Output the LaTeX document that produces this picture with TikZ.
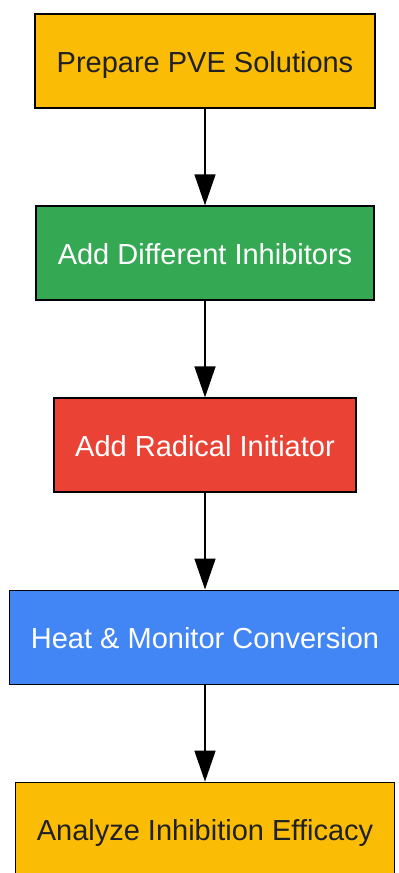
\documentclass[tikz,border=0pt]{standalone}
\usepackage{fontspec}
\setmainfont{Liberation Sans}
\usepackage{tikz}
\usetikzlibrary{arrows.meta,positioning}
\definecolor{PrepColor}{HTML}{FBBC05}
\definecolor{InhibColor}{HTML}{34A853}
\definecolor{InitColor}{HTML}{EA4335}
\definecolor{HeatColor}{HTML}{4285F4}
\definecolor{TextDark}{HTML}{202124}

\begin{document}
\begin{tikzpicture}[x=1pt,y=1pt,node distance=96.5pt,
  stepbox/.style={draw=black,line width=1.6pt,minimum height=94pt,inner xsep=21.5pt,
    text height=23pt,text depth=0pt,font=\fontsize{29}{34}\selectfont},
  flow/.style={line width=1.6pt,-{Triangle[length=31pt,width=21pt]}}]
  \useasboundingbox (0,0) rectangle (399,-873);
  \node[stepbox,fill=PrepColor,text=TextDark] (prep) at (205,-61) {Prepare PVE Solutions};
  \node[stepbox,fill=InhibColor,text=white,below=of prep] (inhib) {Add Different Inhibitors};
  \node[stepbox,fill=InitColor,text=white,below=of inhib] (init) {Add Radical Initiator};
  \node[stepbox,fill=HeatColor,text=white,below=of init] (heat) {Heat \& Monitor Conversion};
  \node[stepbox,fill=PrepColor,text=TextDark,below=of heat] (eff) {Analyze Inhibition Efficacy};
  \draw[flow] (prep) -- (inhib);
  \draw[flow] (inhib) -- (init);
  \draw[flow] (init) -- (heat);
  \draw[flow] (heat) -- (eff);
\end{tikzpicture}
\end{document}
